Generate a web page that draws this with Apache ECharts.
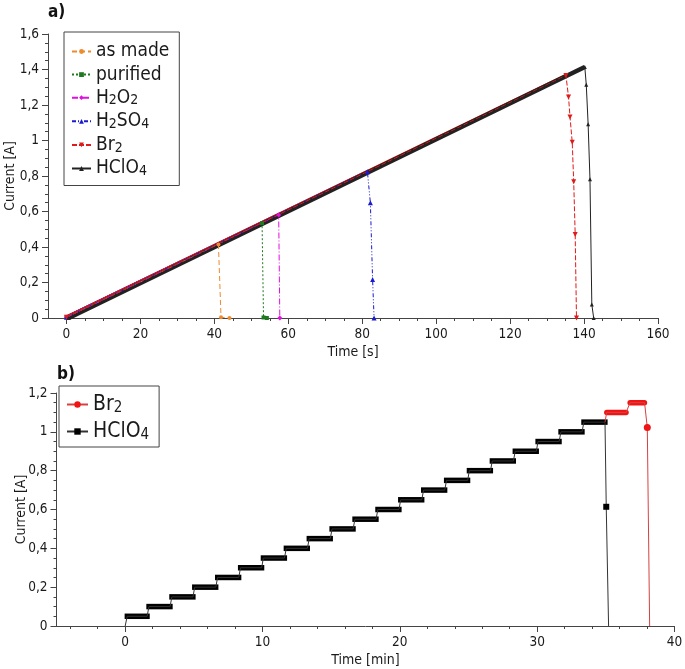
<!DOCTYPE html>
<html><head><meta charset="utf-8">
<script src="https://cdn.jsdelivr.net/npm/echarts@6/dist/echarts.min.js"></script>
<style>html,body{margin:0;padding:0;background:#fff}#c{width:685px;height:669px}</style>
</head><body><div id="c"></div>
<script>
// ---------- Panel a) : current vs time [s] ----------
const aAsMade   = [[0,0.004],[41.1,0.414],[41.8,0.004],[44.1,0]];
const aPurified = [[0,0.004],[52.9,0.534],[53.3,0.003],[54.2,0]];
const aH2O2     = [[0,0.004],[57.4,0.580],[57.7,0]];
const aH2SO4    = [[0,0.004],[81.4,0.824],[82.2,0.649],[82.8,0.217],[83.2,0]];
const aBr2      = [[0,0.004],[135.1,1.366],[135.8,1.245],[136.2,1.133],[136.8,0.99],[137.2,0.768],[137.6,0.471],[137.95,0]];
const aHClO4    = [[0.6,0],[140.2,1.414],[140.6,1.314],[141.1,1.092],[141.6,0.781],[142.1,0.076],[142.6,0]];

const aXMajor = [0,20,40,60,80,100,120,140,160];
const aXMinor = [5,10,15,25,30,35,45,50,55,65,70,75,85,90,95,105,110,115,125,130,135,145,150,155];

// ---------- Panel b) : current vs time [min] ----------
const bStepLevels = [0.05,0.10,0.15,0.20,0.25,0.30,0.35,0.40,0.45,0.50,0.55,0.60,0.65,0.70,0.75,0.80,0.85,0.90,0.95,1.00,1.05];
const bStepStart  = [0.15,1.73,3.40,5.06,6.73,8.40,10.06,11.73,13.40,15.06,16.73,18.40,20.06,21.73,23.40,25.06,26.73,28.40,30.06,31.73,33.40];
const bStepEnd    = [1.60,3.27,4.94,6.60,8.27,9.94,11.60,13.27,14.94,16.60,18.27,19.94,21.60,23.27,24.94,26.60,28.27,29.94,31.60,33.27,34.94];
const bBr2Levels  = [1.10,1.15];
const bBr2Start   = [35.06,36.76];
const bBr2End     = [36.48,37.82];
const bHClO4Drop  = [[35.03,0.614],[35.2,0]];
const bBr2Drop    = [[38.02,1.022],[38.19,0]];

const bXMajor = [0,10,20,30,40];
const bXMinor = [-4,-2,2,4,6,8,12,14,16,18,22,24,26,28,32,34,36,38];

// ---------- styling ----------
const FONT = '"DejaVu Sans Condensed","DejaVu Sans",sans-serif';
const AX = '#444';
const TXT = '#1a1a1a';
const TICKFS = 13.5;

const legendLabels = {
  'as made':'{a|as made}', 'purified':'{a|purified}',
  'H2O2':'{a|H}{s|2}{a|O}{s|2}', 'H2SO4':'{a|H}{s|2}{a|SO}{s|4}',
  'Br2':'{a|Br}{s|2}', 'HClO4':'{a|HClO}{s|4}',
  'b_Br2':'{a|Br}{s|2}', 'b_HClO4':'{a|HClO}{s|4}'
};

function yAxisDef(gridIndex, max, gap){
  return {type:'value', gridIndex, min:0, max, interval:0.2,
    name:'Current [A]', nameLocation:'middle', nameGap:gap, nameMoveOverlap:false,
    nameTextStyle:{fontFamily:FONT,fontSize:14,color:TXT},
    axisLine:{show:true,onZero:false,lineStyle:{color:AX,width:1}},
    axisTick:{show:true,length:6,lineStyle:{color:AX}},
    minorTick:{show:true,splitNumber:4,length:3,lineStyle:{color:AX}},
    splitLine:{show:false}, minorSplitLine:{show:false},
    axisLabel:{fontFamily:FONT,fontSize:TICKFS,color:TXT,margin:9,
      formatter:v=>String(Math.round(v*10)/10).replace('.',',')}};
}
function xAxisMain(gridIndex,min,max,major,name,gap){
  return {type:'value', gridIndex, min, max, position:'bottom',
    name, nameLocation:'middle', nameGap:gap, nameMoveOverlap:false,
    nameTextStyle:{fontFamily:FONT,fontSize:14,color:TXT},
    axisLine:{show:true,onZero:false,lineStyle:{color:AX,width:1}},
    axisTick:{show:true,length:6,customValues:major,lineStyle:{color:AX}},
    axisLabel:{customValues:major,fontFamily:FONT,fontSize:TICKFS,color:TXT,margin:9},
    splitLine:{show:false}};
}
function xAxisMinor(gridIndex,min,max,minor){
  return {type:'value', gridIndex, min, max, position:'bottom',
    axisLine:{show:false,onZero:false},
    axisTick:{show:true,length:3,customValues:minor,lineStyle:{color:AX}},
    axisLabel:{show:false}, splitLine:{show:false}};
}

// ---------- panel a series ----------
const aDefs = [
  {name:'as made', data:aAsMade,   color:'#EE8A2E', dash:[5,3],       symbol:'circle',  size:4},
  {name:'purified',data:aPurified, color:'#1E7A1E', dash:[2,2],       symbol:'rect',    size:4},
  {name:'H2O2',    data:aH2O2,     color:'#E010E0', dash:[6,2,1,2],   symbol:'diamond', size:5},
  {name:'H2SO4',   data:aH2SO4,    color:'#1A1AD0', dash:[4,2,1,2,1,2], symbol:'triangle', size:5},
  {name:'Br2',     data:aBr2,      color:'#E01A1A', dash:[5,2],       symbol:'path://M0,0L10,0L5,9Z', size:5},
  {name:'HClO4',   data:aHClO4,    color:'#222222', dash:'solid',     symbol:'triangle', size:4}
];
const series = [];
aDefs.forEach((d,i)=>{
  series.push({type:'line', xAxisIndex:0, yAxisIndex:0, data:d.data.slice(0,2),
    symbol:'none', silent:true, z:2,
    lineStyle:{width: i===5?4.5:3.5, color:d.color}});
});
aDefs.forEach(d=>{
  series.push({type:'line', name:d.name, xAxisIndex:0, yAxisIndex:0, data:d.data,
    symbol:d.symbol, symbolSize:d.size, showSymbol:true, z:3,
    itemStyle:{color:d.color},
    lineStyle:{width:1, type:d.dash, color:d.color}});
});

// ---------- panel b series ----------
function thinData(first, levels, starts, ends, drop){
  const out = [{value:first, symbol:'none'}];
  for(let k=0;k<levels.length;k++){
    out.push({value:[starts[k],levels[k]], symbol:'none'});
    out.push({value:[ends[k],levels[k]], symbol:'none'});
  }
  out.push({value:drop[0]});
  for(let k=1;k<drop.length;k++) out.push({value:drop[k], symbol:'none'});
  return out;
}
function barRows(levels, starts, ends){
  return levels.map((l,k)=>[starts[k], ends[k], l]);
}
function barSeries(rows, color, round){
  return {type:'custom', xAxisIndex:2, yAxisIndex:1, data:rows, silent:true, z:3,
    encode:{x:[0,1], y:2},
    renderItem:(params, api)=>{
      const p1 = api.coord([api.value(0), api.value(2)]);
      const p2 = api.coord([api.value(1), api.value(2)]);
      const h = 5.5;
      return {type:'rect',
        shape:{x:p1[0]-2.6, y:p1[1]-h/2, width:p2[0]-p1[0]+5.2, height:h, r: round? h/2 : 0},
        style:{fill:color}};
    }};
}
const lastK = bStepLevels.length-1;
series.push({type:'line', name:'b_Br2', xAxisIndex:2, yAxisIndex:1,
  data:thinData([bStepEnd[lastK], bStepLevels[lastK]], bBr2Levels, bBr2Start, bBr2End, bBr2Drop),
  symbol:'circle', symbolSize:7, showSymbol:true, z:3,
  itemStyle:{color:'#F01414'}, lineStyle:{width:1,color:'#D84040'}});
series.push(barSeries(barRows(bBr2Levels, bBr2Start, bBr2End), '#F01414', true));
series.push({type:'line', name:'b_HClO4', xAxisIndex:2, yAxisIndex:1,
  data:thinData([0,0], bStepLevels, bStepStart, bStepEnd, bHClO4Drop),
  symbol:'rect', symbolSize:6, showSymbol:true, z:3,
  itemStyle:{color:'#000'}, lineStyle:{width:1,color:'#333'}});
series.push(barSeries(barRows(bStepLevels, bStepStart, bStepEnd), '#000', false));

const chart = echarts.init(document.getElementById('c'), null, {renderer:'canvas'});
chart.setOption({
  animation:false,
  backgroundColor:'#fff',
  title:[
    {text:'a)', left:48, top:4, padding:0, textStyle:{fontFamily:FONT,fontWeight:'bold',fontSize:17,color:'#111'}},
    {text:'b)', left:57, top:366, padding:0, textStyle:{fontFamily:FONT,fontWeight:'bold',fontSize:17,color:'#111'}}
  ],
  grid:[
    {left:48, top:34, width:610, height:284, containLabel:false, outerBoundsMode:'none'},
    {left:56.5, top:393, width:618, height:233, containLabel:false, outerBoundsMode:'none'}
  ],
  xAxis:[
    xAxisMain(0,-5,160,aXMajor,'Time [s]',27),
    xAxisMinor(0,-5,160,aXMinor),
    xAxisMain(1,-5,40,bXMajor,'Time [min]',27),
    xAxisMinor(1,-5,40,bXMinor)
  ],
  yAxis:[ yAxisDef(0,1.6,31), yAxisDef(1,1.2,28.5) ],
  legend:[
    {data:['as made','purified','H2O2','H2SO4','Br2','HClO4'], orient:'vertical',
     left:64, top:32, padding:[10,10,7,7], itemGap:4.1, itemWidth:19, itemHeight:6,
     borderColor:'#444', borderWidth:1, backgroundColor:'#fff', selectedMode:false,
     formatter:n=>legendLabels[n],
     textStyle:{fontFamily:FONT,color:TXT,
       rich:{a:{fontFamily:FONT,fontSize:19,lineHeight:20,color:TXT},
             s:{fontFamily:FONT,fontSize:14,lineHeight:8,verticalAlign:'bottom',color:TXT}}}},
    {data:['b_Br2','b_HClO4'], orient:'vertical',
     left:59, top:386, padding:[8,10,4,7], itemGap:5, itemWidth:21, itemHeight:8,
     borderColor:'#444', borderWidth:1, backgroundColor:'#fff', selectedMode:false,
     formatter:n=>legendLabels[n],
     textStyle:{fontFamily:FONT,color:TXT,
       rich:{a:{fontFamily:FONT,fontSize:21,lineHeight:23,color:TXT},
             s:{fontFamily:FONT,fontSize:15,lineHeight:9,verticalAlign:'bottom',color:TXT}}}}
  ],
  series
});
</script></body></html>
